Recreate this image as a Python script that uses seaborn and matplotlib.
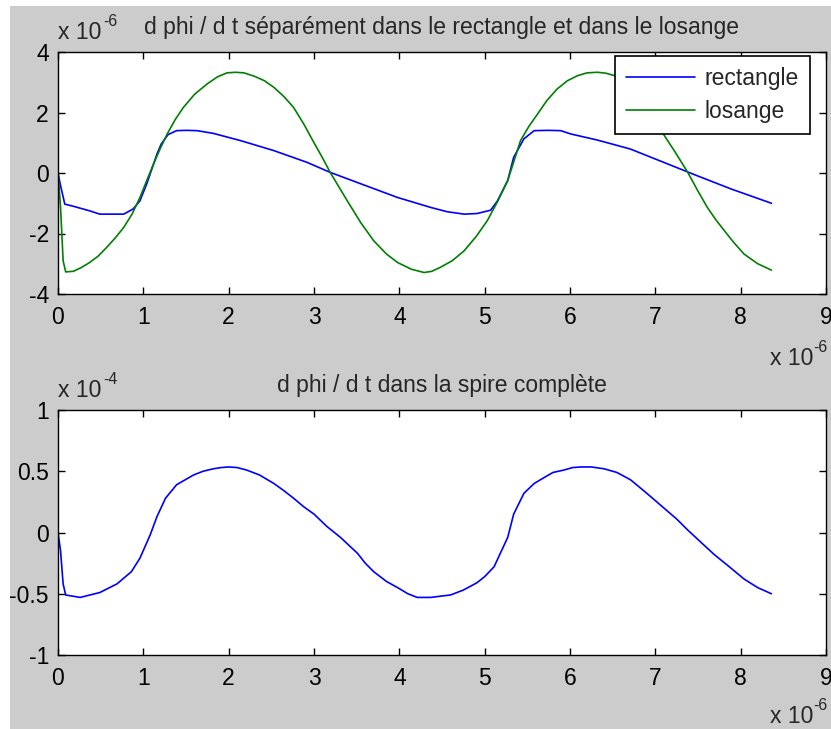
import numpy as np
import pandas as pd
import matplotlib
matplotlib.use("Agg")
import matplotlib.pyplot as plt
from matplotlib.patches import Rectangle
import seaborn as sns

# Time axis in microseconds, flux derivative in units of the axis multipliers
t_rect = [0.0, 0.03, 0.08, 0.18, 0.37, 0.49, 0.77, 0.88, 0.96, 1.04, 1.16, 1.21,
          1.29, 1.39, 1.50, 1.63, 1.82, 2.14, 2.53, 2.92, 3.19, 3.58, 3.98, 4.37,
          4.56, 4.76, 4.91, 5.07, 5.15, 5.27, 5.34, 5.46, 5.58, 5.74, 5.89, 6.01,
          6.32, 6.71, 7.10, 7.49, 7.89, 8.36]
rectangle = [0.0, -0.42, -1.03, -1.10, -1.25, -1.36, -1.36, -1.19, -0.92, -0.36,
             0.63, 0.96, 1.27, 1.40, 1.41, 1.40, 1.31, 1.07, 0.74, 0.35, 0.02,
             -0.39, -0.81, -1.14, -1.28, -1.36, -1.34, -1.23, -0.92, -0.25, 0.52,
             1.13, 1.40, 1.41, 1.40, 1.29, 1.09, 0.79, 0.35, -0.09, -0.53, -1.00]

t_los = [0.0, 0.03, 0.06, 0.09, 0.18, 0.27, 0.37, 0.47, 0.57, 0.67, 0.77, 0.87,
         0.96, 1.04, 1.12, 1.20, 1.28, 1.37, 1.47, 1.60, 1.75, 1.87, 1.98, 2.08,
         2.18, 2.30, 2.42, 2.53, 2.65, 2.76, 2.88, 3.00, 3.10, 3.19, 3.29, 3.39,
         3.55, 3.70, 3.85, 3.98, 4.14, 4.29, 4.38, 4.48, 4.62, 4.76, 4.90, 5.03,
         5.15, 5.27, 5.35, 5.42, 5.52, 5.62, 5.73, 5.85, 5.97, 6.09, 6.20, 6.32,
         6.42, 6.52, 6.63, 6.75, 6.85, 6.95, 7.08, 7.23, 7.38, 7.50, 7.61, 7.71,
         7.81, 7.92, 8.04, 8.20, 8.36]
losange = [0.0, -1.14, -2.90, -3.27, -3.25, -3.13, -2.96, -2.75, -2.46, -2.15,
           -1.80, -1.35, -0.81, -0.25, 0.30, 0.82, 1.29, 1.75, 2.17, 2.60, 2.95,
           3.18, 3.31, 3.33, 3.31, 3.20, 3.05, 2.83, 2.52, 2.17, 1.62, 1.00, 0.50,
           0.02, -0.45, -0.92, -1.65, -2.24, -2.68, -2.96, -3.18, -3.29, -3.25,
           -3.12, -2.90, -2.57, -2.10, -1.58, -0.95, -0.25, 0.45, 1.07, 1.55,
           1.95, 2.40, 2.78, 3.05, 3.22, 3.31, 3.33, 3.30, 3.22, 3.02, 2.75, 2.40,
           1.95, 1.35, 0.70, 0.02, -0.60, -1.14, -1.55, -1.91, -2.30, -2.68,
           -3.00, -3.21]

t_spire = [0.0, 0.03, 0.06, 0.09, 0.26, 0.49, 0.69, 0.86, 0.96, 1.08, 1.16, 1.26,
           1.39, 1.59, 1.70, 1.82, 1.91, 2.00, 2.10, 2.21, 2.36, 2.53, 2.65, 2.76,
           2.88, 3.00, 3.15, 3.31, 3.51, 3.60, 3.70, 3.85, 3.98, 4.10, 4.21, 4.37,
           4.48, 4.60, 4.75, 4.91, 5.00, 5.11, 5.27, 5.34, 5.46, 5.58, 5.70, 5.80,
           5.93, 6.03, 6.13, 6.25, 6.40, 6.55, 6.71, 6.90, 7.10, 7.25, 7.38, 7.55,
           7.69, 7.85, 8.04, 8.20, 8.36]
spire = [0.0, -0.15, -0.42, -0.51, -0.53, -0.49, -0.42, -0.32, -0.21, -0.02, 0.13,
         0.28, 0.39, 0.47, 0.50, 0.52, 0.53, 0.535, 0.53, 0.51, 0.47, 0.40, 0.34,
         0.28, 0.21, 0.15, 0.05, -0.04, -0.17, -0.25, -0.32, -0.40, -0.45, -0.50,
         -0.53, -0.53, -0.52, -0.51, -0.47, -0.41, -0.36, -0.28, -0.04, 0.15,
         0.32, 0.40, 0.45, 0.49, 0.51, 0.53, 0.535, 0.535, 0.52, 0.49, 0.43,
         0.32, 0.20, 0.11, 0.02, -0.09, -0.18, -0.27, -0.38, -0.45, -0.50]

x_ticks = list(range(0, 10))
y_ticks_top = [-4, -2, 0, 2, 4]
y_ticks_bottom = [-1, -0.5, 0, 0.5, 1]
y_ticklabels_bottom = ["-1", "-0.5", "0", "0.5", "1"]

sns.set_style("white")
plt.rcParams["font.family"] = ["Liberation Sans", "DejaVu Sans"]
plt.rcParams["axes.unicode_minus"] = False

W, H = 831, 729
FS = 16.5
fig = plt.figure(figsize=(W / 100, H / 100), dpi=100, facecolor="white")
fig.patches.append(Rectangle((10 / W, 0), 1 - 10 / W, 1 - 6 / H,
                             transform=fig.transFigure, facecolor="#cccccc",
                             edgecolor="none", zorder=-10))


def px_axes(left, top, right, bottom):
    return fig.add_axes([left / W, 1 - bottom / H, (right - left) / W, (bottom - top) / H])


ax1 = px_axes(58, 52, 826, 294)
ax2 = px_axes(58, 410, 826, 655)

df_rect = pd.DataFrame({"t": t_rect, "v": rectangle})
df_los = pd.DataFrame({"t": t_los, "v": losange})
df_spire = pd.DataFrame({"t": t_spire, "v": spire})

sns.lineplot(data=df_rect, x="t", y="v", ax=ax1, color="#0000ff", lw=1.2,
             sort=False, estimator=None, label="rectangle")
sns.lineplot(data=df_los, x="t", y="v", ax=ax1, color="#008000", lw=1.2,
             sort=False, estimator=None, label="losange")
sns.lineplot(data=df_spire, x="t", y="v", ax=ax2, color="#0000ff", lw=1.2,
             sort=False, estimator=None)

for ax in (ax1, ax2):
    ax.set_facecolor("white")
    ax.set_xlim(0, 9)
    ax.set_xticks(x_ticks)
    ax.set_xticklabels([str(v) for v in x_ticks])
    ax.set_xlabel("")
    ax.set_ylabel("")
    for s in ax.spines.values():
        s.set_visible(True)
        s.set_color("black")
        s.set_linewidth(1.0)
    ax.tick_params(axis="both", direction="in", length=5, width=1.0, color="black",
                   labelsize=FS, labelcolor="black", top=True, right=True,
                   bottom=True, left=True)
    ax.tick_params(axis="x", pad=8.5)
    ax.tick_params(axis="y", pad=6.5)

ax1.set_ylim(-4, 4)
ax1.set_yticks(y_ticks_top)
ax1.set_yticklabels([str(v) for v in y_ticks_top])
ax2.set_ylim(-1, 1)
ax2.set_yticks(y_ticks_bottom)
ax2.set_yticklabels(y_ticklabels_bottom)

leg = ax1.legend(loc="upper right", bbox_to_anchor=((810 - 58) / 768, (294 - 56) / 242),
                 fontsize=FS, frameon=True, fancybox=False, shadow=False,
                 handlelength=3.0, handletextpad=0.4, labelspacing=0.4,
                 borderpad=0.5, borderaxespad=0.0)
leg.get_frame().set_edgecolor("black")
leg.get_frame().set_linewidth(1.2)
leg.get_frame().set_facecolor("white")
leg.get_frame().set_alpha(1.0)

ax1.set_title("d phi / d t séparément dans le rectangle et dans le losange",
              fontsize=FS, pad=13)
ax2.set_title("d phi / d t dans la spire complète", fontsize=FS, pad=13)


def multiplier(x, y, exp, ha="left"):
    """Draw an 'x 10^exp' axis multiplier with its baseline at pixel (x, y)."""
    if ha == "left":
        fig.text(x / W, 1 - y / H, "x 10", fontsize=FS, va="baseline", ha="left")
        fig.text((x + 45) / W, 1 - (y - 13) / H, exp, fontsize=FS * 0.7,
                 va="baseline", ha="left")
    else:
        fig.text(x / W, 1 - (y - 13) / H, exp, fontsize=FS * 0.7,
                 va="baseline", ha="right")
        fig.text((x - 14) / W, 1 - y / H, "x 10", fontsize=FS, va="baseline", ha="right")


multiplier(58, 39, "-6")
multiplier(827, 365, "-6", ha="right")
multiplier(58, 397, "-4")
multiplier(827, 723, "-6", ha="right")

fig.savefig("out.png", dpi=100, facecolor="white")
